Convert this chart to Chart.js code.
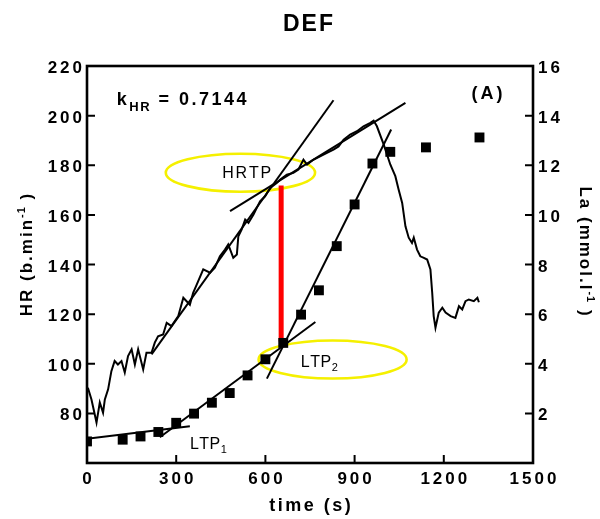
<!DOCTYPE html>
<html>
<head>
  <meta charset="UTF-8">
  <title>DEF</title>
  <script src="https://cdn.jsdelivr.net/npm/chart.js"></script>
  <style>
    body { margin: 0; background: #fff; }
  </style>
</head>
<body>
  <canvas id="hrChart" width="600" height="519"></canvas>

  <script>
    // heart rate trace, time (s) / HR (b.min-1)
    const hrTime = [3,15,20,32,43,54,60,71,82,93,104,116,127,138,150,161,172,189,200,217,
      228,239,256,268,284,307,324,335,346,357,369,391,414,430,447,464,475,492,504,509,
      520,532,543,560,571,582,599,616,638,650,672,694,711,728,740,762,784,807,829,846,
      863,885,908,930,953,964,975,998,1020,1037,1048,1060,1071,1082,1093,1099,1110,1121,1133,1144,
      1155,1161,1166,1172,1183,1195,1206,1223,1239,1251,1262,1273,1284,1301,1313,1318];
    const hrValue = [90.3,85.6,82.9,76.3,84.4,80.3,85.6,89.7,97.0,101.1,99.7,101.1,96.5,103.1,105.8,99.7,105.8,97.7,104.4,104.4,
      108.5,111.1,111.8,116.5,115.2,119.2,126.6,125.2,123.8,128.6,131.9,138.0,136.7,138.7,143.3,146.0,148.1,142.7,144.0,151.4,
      154.1,158.1,156.8,160.1,162.8,165.5,167.5,170.9,172.9,174.2,176.2,176.9,178.3,182.3,180.3,182.3,183.6,185.0,186.3,187.6,
      190.3,192.4,193.7,195.7,197.1,198.0,195.7,188.3,180.3,175.6,170.2,164.8,155.4,150.8,148.7,150.8,146.0,143.3,142.7,142.0,
      138.0,128.6,119.2,114.5,120.6,122.6,120.6,119.2,118.5,123.2,121.9,125.2,125.9,125.2,126.6,124.8];

    // blood lactate samples, time (s) / La (mmol.l-1)
    const laTime = [0,120,180,240,300,360,420,480,540,600,660,720,780,840,900,960,1020,1140,1320];
    const laValue = [0.87,0.94,1.07,1.25,1.62,1.99,2.43,2.82,3.53,4.18,4.84,5.98,6.96,8.74,10.42,12.07,12.54,12.72,13.12];

    // regression lines (start, end)
    const hrFit1Time = [217, 829],  hrFit1Value = [103.8, 206.2];
    const hrFit2Time = [481, 1071], hrFit2Value = [161.5, 205.1];
    const laFit1Time = [0, 346],    laFit1Value = [0.98, 1.48];
    const laFit2Time = [245, 768],  laFit2Value = [1.04, 5.68];
    const laFit3Time = [605, 1023], laFit3Value = [3.40, 13.44];

    // HRTP -> LTP2 marker
    const markTime = [653, 653], markValue = [109, 171.8];

    const pts = (xs, ys) => xs.map((x, i) => ({ x: x, y: ys[i] }));

    const BOLD = 'bold {s}px "Liberation Sans", Arial, sans-serif';
    const NORM = '{s}px "Liberation Sans", Arial, sans-serif';
    const bold = s => BOLD.replace('{s}', s);
    const norm = s => NORM.replace('{s}', s);

    // draws text char by char so that letter spacing and sub/superscripts work
    function rich(ctx, parts, x, y, align, rot) {
      const glyphs = [];
      let w = 0, lastSp = 0;
      parts.forEach(p => {
        ctx.font = p.font;
        for (const ch of p.text) {
          glyphs.push({ ch: ch, font: p.font, dy: p.dy || 0, x: w });
          w += ctx.measureText(ch).width + (p.sp || 0);
          lastSp = p.sp || 0;
        }
      });
      w -= lastSp;
      const x0 = align === 'center' ? -w / 2 : align === 'right' ? -w : 0;
      ctx.save();
      ctx.translate(x, y);
      if (rot) ctx.rotate(rot);
      ctx.fillStyle = '#000';
      ctx.textAlign = 'left';
      ctx.textBaseline = 'alphabetic';
      glyphs.forEach(g => { ctx.font = g.font; ctx.fillText(g.ch, x0 + g.x, g.dy); });
      ctx.restore();
    }

    // ellipses round the thresholds (time, HR, half width s, half height b.min-1)
    const rings = [
      { t: 516, hr: 177, rt: 251, rh: 7.65 },
      { t: 826, hr: 101.7, rt: 249, rh: 7.65 }
    ];

    const notes = [
      { t: 100, hr: 204.4, align: 'left', parts: [
        { text: 'k', font: bold(18), sp: 2.5 },
        { text: 'HR', font: bold(13), dy: 6, sp: 1.5 },
        { text: ' = 0.7144', font: bold(18), sp: 2.5 }] },
      { t: 1345, hr: 206.5, align: 'center', parts: [{ text: '(A)', font: bold(18), sp: 3 }] },
      { t: 537, hr: 174.9, align: 'center', parts: [{ text: 'HRTP', font: norm(16), sp: 1.8 }] },
      { t: 719, hr: 98.8, align: 'left', parts: [
        { text: 'LTP', font: norm(16), sp: 0.5 }, { text: '2', font: norm(11), dy: 4 }] },
      { t: 346, hr: 65.5, align: 'left', parts: [
        { text: 'LTP', font: norm(16), sp: 0.5 }, { text: '1', font: norm(11), dy: 4 }] }
    ];

    const decor = {
      id: 'decor',
      beforeDatasetsDraw(chart) {
        const ctx = chart.ctx, xs = chart.scales.x, ys = chart.scales.y;
        ctx.save();
        ctx.strokeStyle = '#f5f000';
        ctx.lineWidth = 2.6;
        rings.forEach(r => {
          const cx = xs.getPixelForValue(r.t), cy = ys.getPixelForValue(r.hr);
          const rx = xs.getPixelForValue(r.t + r.rt) - cx;
          const ry = cy - ys.getPixelForValue(r.hr + r.rh);
          ctx.beginPath();
          ctx.ellipse(cx, cy, rx, ry, 0, 0, Math.PI * 2);
          ctx.stroke();
        });
        ctx.restore();
      },
      afterDatasetsDraw(chart) {
        const ctx = chart.ctx, a = chart.chartArea;
        const xs = chart.scales.x, ys = chart.scales.y, y2 = chart.scales.y2;
        ctx.save();
        // frame
        ctx.strokeStyle = '#000';
        ctx.lineWidth = 2.6;
        ctx.strokeRect(a.left, a.top, a.right - a.left, a.bottom - a.top);
        // inward ticks
        ctx.lineWidth = 2;
        ctx.beginPath();
        xs.ticks.forEach(t => {
          if (t.value <= xs.min || t.value >= xs.max) return;
          const p = xs.getPixelForValue(t.value);
          ctx.moveTo(p, a.bottom); ctx.lineTo(p, a.bottom - 8);
        });
        ys.ticks.forEach(t => {
          if (t.value <= ys.min || t.value >= ys.max) return;
          const p = ys.getPixelForValue(t.value);
          ctx.moveTo(a.left, p); ctx.lineTo(a.left + 8, p);
        });
        y2.ticks.forEach(t => {
          if (t.value <= y2.min || t.value >= y2.max) return;
          const p = y2.getPixelForValue(t.value);
          ctx.moveTo(a.right, p); ctx.lineTo(a.right - 8, p);
        });
        ctx.stroke();
        ctx.restore();

        // tick labels
        xs.ticks.forEach(t => {
          rich(ctx, [{ text: String(t.value), font: bold(17), sp: 3 }],
            xs.getPixelForValue(t.value), a.bottom + 21, 'center');
        });
        ys.ticks.forEach(t => {
          if (t.value <= ys.min) return;
          rich(ctx, [{ text: String(t.value), font: bold(17), sp: 3 }],
            a.left - 5, ys.getPixelForValue(t.value) + 7, 'right');
        });
        y2.ticks.forEach(t => {
          if (t.value <= y2.min) return;
          rich(ctx, [{ text: String(t.value), font: bold(17), sp: 3 }],
            a.right + 5, y2.getPixelForValue(t.value) + 7, 'left');
        });

        // axis titles
        const mid = (a.left + a.right) / 2;
        rich(ctx, [{ text: 'DEF', font: bold(23), sp: 2 }], mid - 2, 31, 'center');
        rich(ctx, [{ text: 'time (s)', font: bold(18), sp: 2.5 }], mid, 511, 'center');
        rich(ctx, [
          { text: 'HR (b.min', font: bold(17), sp: 2 },
          { text: '-1', font: bold(11), dy: -7, sp: 1 },
          { text: ' )', font: bold(17), sp: 2 }], 32, 255, 'center', -Math.PI / 2);
        rich(ctx, [
          { text: 'La (mmol.l', font: bold(17), sp: 2 },
          { text: '-1', font: bold(11), dy: -7, sp: 1 },
          { text: ' )', font: bold(17), sp: 2 }], 580, 251, 'center', Math.PI / 2);

        // annotations
        notes.forEach(n => {
          rich(ctx, n.parts, xs.getPixelForValue(n.t), ys.getPixelForValue(n.hr), n.align);
        });
      }
    };

    const line = (data, axis, color, width) => ({
      data: data, yAxisID: axis, showLine: true, borderColor: color,
      borderWidth: width, pointRadius: 0, fill: false, tension: 0
    });

    new Chart(document.getElementById('hrChart'), {
      type: 'scatter',
      data: {
        datasets: [
          {
            label: 'La', data: pts(laTime, laValue), yAxisID: 'y2',
            pointStyle: 'rect', pointRadius: 7, backgroundColor: '#000', borderWidth: 0
          },
          line(pts(hrTime, hrValue), 'y', '#000', 2),
          line(pts(hrFit1Time, hrFit1Value), 'y', '#000', 2),
          line(pts(hrFit2Time, hrFit2Value), 'y', '#000', 2),
          line(pts(laFit1Time, laFit1Value), 'y2', '#000', 2),
          line(pts(laFit2Time, laFit2Value), 'y2', '#000', 2),
          line(pts(laFit3Time, laFit3Value), 'y2', '#000', 2),
          line(pts(markTime, markValue), 'y', '#ff0000', 5)
        ]
      },
      options: {
        responsive: false,
        animation: false,
        events: [],
        layout: { padding: { top: 66, left: 0, right: 0, bottom: 0 }, autoPadding: false },
        plugins: { legend: { display: false }, tooltip: { enabled: false } },
        scales: {
          x: {
            type: 'linear', min: 0, max: 1500,
            ticks: { stepSize: 300, display: false },
            grid: { display: false }, border: { display: false },
            afterFit: s => { s.height = 56; }
          },
          y: {
            position: 'left', min: 60, max: 220,
            ticks: { stepSize: 20, display: false },
            grid: { display: false }, border: { display: false },
            afterFit: s => { s.width = 87; }
          },
          y2: {
            position: 'right', min: 0, max: 16,
            ticks: { stepSize: 2, display: false },
            grid: { display: false }, border: { display: false },
            afterFit: s => { s.width = 67; }
          }
        }
      },
      plugins: [decor]
    });
  </script>
</body>
</html>
